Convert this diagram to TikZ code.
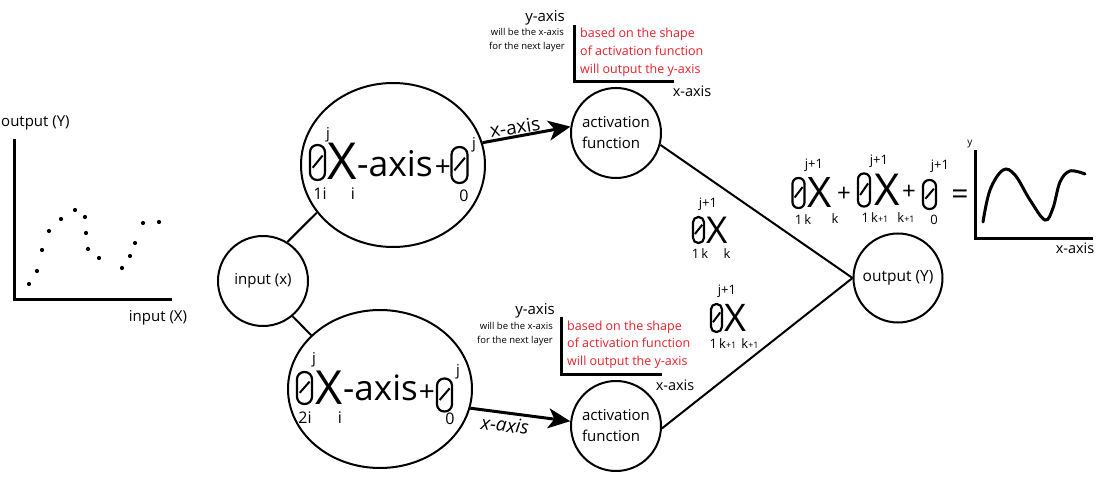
\documentclass[tikz,border=0pt]{standalone}
\usepackage{fontspec}
\setmainfont{Open Sans}
\usetikzlibrary{shapes.geometric,arrows.meta}
\newcommand\fsz[1]{\fontsize{#1}{#1}\selectfont}
\definecolor{annred}{RGB}{232,32,42}
\tikzset{
  neuron/.style={circle,draw,line width=2pt,inner sep=0pt,minimum size=#1,font=\fsz{15}},
  neuron/.default=90pt,
  bigell/.style={ellipse,draw,line width=2pt,inner sep=0pt},
  conn/.style={line width=2pt},
  bigarrow/.style={line width=3pt,-{Stealth[length=22pt,width=20pt,inset=6pt]}},
  axisline/.style={line width=3pt},
  txt/.style={inner sep=0pt},
  optxt/.style={inner sep=0pt,anchor=base},
  redtxt/.style={inner sep=0pt,anchor=mid west,text=annred,font=\fsz{12.5}},
  smalltxt/.style={inner sep=0pt,anchor=mid east,font=\fsz{9.5}},
  pics/thetag/.style 2 args={code={
    \pgfmathsetmacro\thr{#1*0.48}
    \draw[line width=2.2pt,rounded corners=\thr pt] ({-#1/2},{-#2/2}) rectangle ({#1/2},{#2/2});
    \draw[line width=2pt] ({-0.32*#1},{0.15*#2}) -- ({0.34*#1},{-0.2*#2});
  }},
}
\begin{document}
\begin{tikzpicture}[x=1pt,y=-1pt]
\useasboundingbox (0,0) rectangle (1096,492);
\fill[white] (0,0) rectangle (1096,492);

% ---------- left scatter plot ----------
\draw[axisline] (14,139) -- (14,299) -- (172,299);
\foreach \px/\py in {29/284,37/271,42/250,49/231,61/219,75/210,85/217,86/233,88/249,99/258,122/268,130/256,135/243,143/223,159/222}
  \fill (\px,\py) circle (2.1pt);
\node[txt,anchor=mid west,font=\fsz{15}] (outlab) at (1,124) {output (Y)};
\node[txt,font=\fsz{15}] (inlab) at (158,318) {input (X)};

% ---------- network nodes ----------
\node[neuron] (inp) at (263,281) {input (x)};
\node[bigell,minimum width=184pt,minimum height=164pt] (topE) at (393,165) {};
\node[bigell,minimum width=184pt,minimum height=158pt] (botE) at (380,389) {};
\node[neuron,align=left,font=\fontsize{15}{21}\selectfont] (act1) at (616,133) {activation\\function};
\node[neuron,align=left,font=\fontsize{15}{21}\selectfont] (act2) at (616,426) {activation\\function};
\node[neuron=89pt,font=\fsz{15.5}] (out) at (898,278) {output (Y)};

% ---------- connectors ----------
\draw[conn] (inp.58) -- (topE.212);
\draw[conn] (inp.-50) -- (botE.142);
\draw[bigarrow] (topE.14) -- (act1.172);
\draw[bigarrow] (botE.-12) -- (act2.174);
\draw[conn] (act1.-15) -- (out.west);
\draw[conn] (act2.-3) -- (out.west);
\node[txt,font=\fsz{19},rotate=9] (xa1) at (515,127) {x-axis};
\node[txt,font=\fsz{19}\itshape,rotate=-6] (xa2) at (505,425) {x-axis};

% ---------- top formula ----------
\pic (tth1) at (317.5,162.5) {thetag={15}{35}};
\node[txt,font=\fsz{51}] (tX) at (342.5,161.5) {X};
\node[txt,anchor=base west,font=\fsz{35.5}] (tax) at (357,176.5) {-axis};
\node[optxt,font=\fsz{28}] (tplus) at (443,176.5) {+};
\pic (tth2) at (459.5,165) {thetag={16}{36}};
\node[txt,font=\fsz{15}] (tj1) at (328,135) {j};
\node[txt,font=\fsz{15}] (tj2) at (474,145) {j};
\node[txt,font=\fsz{16}] (ts1) at (320,194) {1i};
\node[txt,font=\fsz{16}] (ts2) at (353,194) {i};
\node[txt,font=\fsz{16}] (ts3) at (464,196) {0};

% ---------- bottom formula ----------
\pic (bth1) at (304.5,388) {thetag={15}{32}};
\node[txt,font=\fsz{47}] (bX) at (329,388) {X};
\node[txt,anchor=base west,font=\fsz{35}] (bax) at (343,400.5) {-axis};
\node[optxt,font=\fsz{28}] (bplus) at (427,401.5) {+};
\pic (bth2) at (444.5,395) {thetag={15}{33}};
\node[txt,font=\fsz{15}] (bj1) at (314,360) {j};
\node[txt,font=\fsz{15}] (bj2) at (458,372) {j};
\node[txt,font=\fsz{16}] (bs1) at (305,418) {2i};
\node[txt,font=\fsz{16}] (bs2) at (340,418) {i};
\node[txt,font=\fsz{16}] (bs3) at (450,419) {0};

% ---------- middle terms ----------
\node[txt,font=\fsz{13}] (m1j) at (708,204) {j+1};
\pic (m1th) at (698.5,230) {thetag={11}{26}};
\node[txt,font=\fsz{37}] (m1X) at (717,230) {X};
\node[txt,font=\fsz{13}] (m1s1) at (700,254) {1\,k};
\node[txt,font=\fsz{13}] (m1s2) at (727,254) {k};

\node[txt,font=\fsz{13}] (m2j) at (727,291) {j+1};
\pic (m2th) at (716.5,318) {thetag={11}{28}};
\node[txt,font=\fsz{38}] (m2X) at (735,318) {X};
\node[txt,font=\fsz{13}] (m2s1) at (723,344) {1\,k{\fsz{9}+1}};
\node[txt,font=\fsz{13}] (m2s2) at (750,344) {k{\fsz{9}+1}};

% ---------- right formula ----------
\pic (rth1) at (798.5,193) {thetag={12}{30}};
\node[txt,font=\fsz{42}] (rX1) at (820,193) {X};
\node[optxt,font=\fsz{24}] (rp1) at (844,201.5) {+};
\pic (rth2) at (864,190) {thetag={12}{33}};
\node[txt,font=\fsz{44}] (rX2) at (887,190) {X};
\node[optxt,font=\fsz{24}] (rp2) at (909,199.5) {+};
\pic (rth3) at (929.5,194.5) {thetag={13}{29}};
\node[optxt,font=\fsz{30}] (req) at (960,204.5) {=};
\node[txt,font=\fsz{13}] (rj1) at (814,165) {j+1};
\node[txt,font=\fsz{13}] (rj2) at (879,161) {j+1};
\node[txt,font=\fsz{13}] (rj3) at (940,166) {j+1};
\node[txt,font=\fsz{13}] (rs1) at (803,220) {1\,k};
\node[txt,font=\fsz{13}] (rs2) at (835,219) {k};
\node[txt,font=\fsz{13}] (rs3) at (875,218) {1\,k{\fsz{9}+1}};
\node[txt,font=\fsz{13}] (rs4) at (906,218) {k{\fsz{9}+1}};
\node[txt,font=\fsz{13}] (rs5) at (934,220) {0};

% ---------- right small plot ----------
\draw[axisline] (975,150) -- (975,238) -- (1093,238);
\node[txt,font=\fsz{10}] (ry) at (970,144) {y};
\node[txt,font=\fsz{14.5}] (rxa) at (1075,248) {x-axis};
\draw[line width=3pt,line cap=round] plot[smooth,tension=0.6] coordinates
  {(983,222) (990,190) (1003,170) (1015,175) (1030,200) (1045,220) (1053,208) (1060,182) (1070,171) (1085,174)};

% ---------- top annotation ----------
\node[txt,anchor=mid east,font=\fsz{15}] (ay1) at (565,18.5) {y-axis};
\node[smalltxt] (aw1) at (564,33) {will be the x-axis};
\node[smalltxt] (af1) at (565,46.5) {for the next layer};
\draw[axisline] (574,25) -- (574,82) -- (674,82);
\node[redtxt] (ar1a) at (580,34.5) {based on the shape};
\node[redtxt] (ar1b) at (580,52.5) {of activation function};
\node[redtxt] (ar1c) at (580,70.5) {will output the y-axis};
\node[txt,font=\fsz{14.5}] (ax1) at (692,91) {x-axis};

% ---------- bottom annotation ----------
\node[txt,anchor=mid east,font=\fsz{15}] (ay2) at (555,312) {y-axis};
\node[smalltxt] (aw2) at (553,327) {will be the x-axis};
\node[smalltxt] (af2) at (553,341) {for the next layer};
\draw[axisline] (561,317) -- (561,374) -- (662,374);
\node[redtxt] (ar2a) at (567,328) {based on the shape};
\node[redtxt] (ar2b) at (567,345) {of activation function};
\node[redtxt] (ar2c) at (567,362.5) {will output the y-axis};
\node[txt,font=\fsz{14.5}] (ax2) at (675,385) {x-axis};
\end{tikzpicture}
\end{document}
